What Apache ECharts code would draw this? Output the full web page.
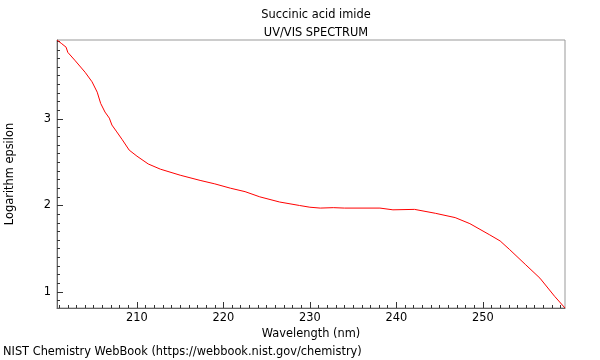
<!DOCTYPE html>
<html>
<head>
<meta charset="utf-8">
<script src="https://cdn.jsdelivr.net/npm/echarts@6/dist/echarts.min.js"></script>
<style>html,body{margin:0;padding:0;background:#fff}#c{width:600px;height:360px}</style>
</head>
<body>
<div id="c"></div>
<script>
var wavelengths = [200.75,201.3,201.8,202.0,202.8,204.0,204.8,205.4,205.8,206.3,206.8,207.1,207.6,208.3,209.1,210.0,211.3,212.7,215.0,217.3,219.0,220.8,222.5,224.2,226.5,228.8,230.0,231.2,232.7,234.0,238.1,239.6,242.1,244.5,246.8,248.5,250.8,252.0,253.1,254.9,256.6,258.3,259.5];
var logEpsilon = [3.913,3.87,3.83,3.77,3.68,3.54,3.43,3.31,3.18,3.08,3.01,2.93,2.86,2.76,2.64,2.57,2.48,2.42,2.35,2.29,2.25,2.20,2.16,2.10,2.04,2.00,1.98,1.97,1.975,1.97,1.97,1.95,1.955,1.91,1.86,1.79,1.66,1.59,1.49,1.32,1.16,0.95,0.815];
var xMajorTicks = [210,220,230,240,250];
var yMajorTicks = [1,2,3];
var xMinorTicks = [];
for (var i = 201; i <= 259; i++) xMinorTicks.push(i);
var yMinorTicks = [];
for (var j = 9; j <= 39; j++) yMinorTicks.push(j / 10);

var chart = echarts.init(document.getElementById('c'));
var font = 'DejaVu Sans';
var fs = 11.4;
var data = wavelengths.map(function (w, k) { return [w, logEpsilon[k]]; });
chart.setOption({
  animation: false,
  textStyle: { fontFamily: font },
  title: {
    text: 'Succinic acid imide\nUV/VIS SPECTRUM',
    left: 311, top: 1, textAlign: 'center',
    textStyle: { fontFamily: font, fontSize: fs, fontWeight: 'normal', color: '#000', lineHeight: 18 }
  },
  grid: { left: 57, right: 35, top: 40, bottom: 52, show: true, borderColor: '#999', borderWidth: 1, containLabel: false, outerBoundsMode: 'none' },
  xAxis: [{
    type: 'value', min: 200.75, max: 259.5, position: 'bottom',
    name: 'Wavelength (nm)', nameLocation: 'middle', nameGap: 18,
    nameTextStyle: { fontFamily: font, fontSize: fs, color: '#000' },
    axisLine: { show: true, lineStyle: { color: '#666', width: 1 } },
    axisTick: { show: true, inside: true, length: 6, customValues: xMajorTicks, lineStyle: { color: '#333' } },
    axisLabel: { show: true, customValues: xMajorTicks, margin: 5, fontFamily: font, fontSize: fs, color: '#000' },
    splitLine: { show: false }
  }, {
    type: 'value', min: 200.75, max: 259.5, position: 'bottom', offset: 0,
    axisLine: { show: false },
    axisTick: { show: true, inside: true, length: 3, customValues: xMinorTicks, lineStyle: { color: '#333' } },
    axisLabel: { show: false },
    splitLine: { show: false }
  }],
  yAxis: [{
    type: 'value', min: 0.815, max: 3.913, position: 'left',
    name: 'Logarithm epsilon', nameLocation: 'middle', nameGap: 41,
    nameTextStyle: { fontFamily: font, fontSize: fs, color: '#000' },
    axisLine: { show: true, lineStyle: { color: '#666', width: 1 } },
    axisTick: { show: true, inside: true, length: 6, customValues: yMajorTicks, lineStyle: { color: '#333' } },
    axisLabel: { show: true, customValues: yMajorTicks, margin: 6, fontFamily: font, fontSize: fs, color: '#000' },
    splitLine: { show: false }
  }, {
    type: 'value', min: 0.815, max: 3.913, position: 'left', offset: 0,
    axisLine: { show: false },
    axisTick: { show: true, inside: true, length: 3, customValues: yMinorTicks, lineStyle: { color: '#333' } },
    axisLabel: { show: false },
    splitLine: { show: false }
  }],
  graphic: [{
    type: 'text', left: 3, top: 347,
    style: { text: 'NIST Chemistry WebBook (https://webbook.nist.gov/chemistry)', fontFamily: font, fontSize: fs, fill: '#000' }
  }],
  series: [{
    type: 'line', data: data, xAxisIndex: 0, yAxisIndex: 0,
    showSymbol: false, symbol: 'none', smooth: false,
    lineStyle: { color: '#ff0000', width: 1 }
  }]
});
</script>
</body>
</html>
